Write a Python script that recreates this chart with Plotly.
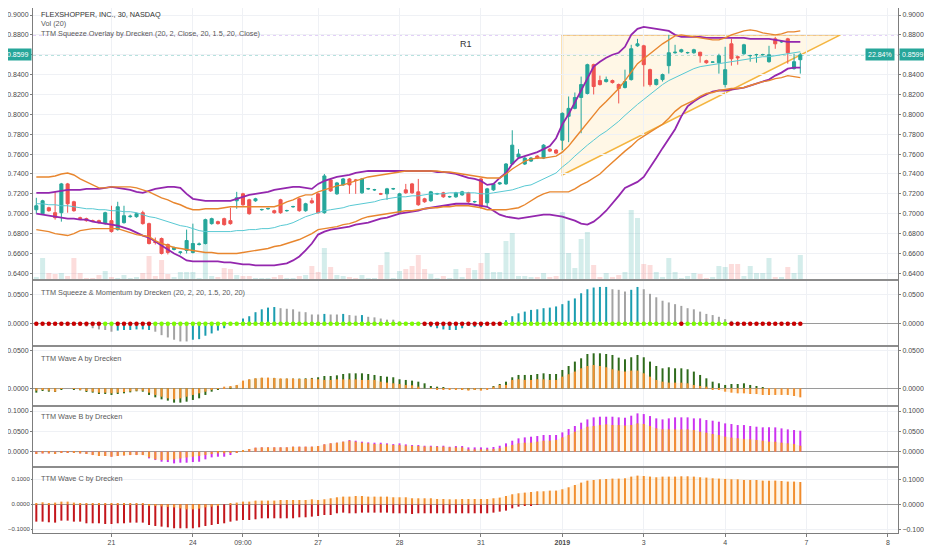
import plotly.graph_objects as go

# ---------------------------------------------------------------------------
# FLEXSHOPPER (FPAY) 30 min, 20 Dec 2018 - 4 Jan 2019, TTM indicators
# bars are numbered from the first visible 30 min candle
# ---------------------------------------------------------------------------
tick_bars = [12, 25, 33, 45, 58, 71, 84, 97, 110, 123, 136]
tick_text = ["21", "24", "09:00", "27", "28", "31", "<b>2019</b>", "3", "4", "7", "8"]

opens = [0.704, 0.700, 0.706, 0.701, 0.701, 0.730, 0.712, 0.696, 0.695, 0.693,
         0.693, 0.690, 0.693, 0.684, 0.691, 0.697, 0.697, 0.701, 0.690, 0.672,
         0.675, 0.669, 0.664, 0.661, 0.663, 0.661, 0.669, 0.670, 0.690, 0.692,
         0.695, 0.693, 0.713, 0.720, 0.714, 0.713, 0.704, 0.705, 0.703, 0.714,
         0.703, 0.707, 0.715, 0.703, 0.713, 0.720, 0.701, 0.734, 0.720, 0.729,
         0.735, 0.734, 0.721, 0.725, 0.724, 0.720, 0.720, 0.725, 0.701, 0.724,
         0.730, 0.722, 0.715, 0.713, 0.720, 0.721, 0.717, 0.717, 0.719, 0.721,
         0.712, 0.735, 0.711, 0.724, 0.730, 0.730, 0.750, 0.757, 0.750, 0.753,
         0.758, 0.756, 0.765, 0.764, 0.774, 0.798, 0.806, 0.817, 0.821, 0.850,
         0.834, 0.833, 0.834, 0.830, 0.827, 0.835, 0.869, 0.869, 0.845, 0.830,
         0.835, 0.849, 0.862, 0.863, 0.862, 0.862, 0.8625, 0.854, 0.8525, 0.852,
         0.830, 0.871, 0.858, 0.861, 0.859, 0.860, 0.860, 0.853, 0.876, 0.873,
         0.876, 0.846, 0.855]
highs = [0.716, 0.714, 0.707, 0.722, 0.731, 0.731, 0.713, 0.697, 0.696, 0.694,
         0.694, 0.702, 0.708, 0.712, 0.708, 0.699, 0.701, 0.703, 0.691, 0.676,
         0.676, 0.670, 0.667, 0.662, 0.684, 0.690, 0.671, 0.695, 0.696, 0.693,
         0.696, 0.706, 0.722, 0.721, 0.715, 0.716, 0.705, 0.706, 0.704, 0.715,
         0.704, 0.708, 0.716, 0.711, 0.716, 0.721, 0.740, 0.736, 0.732, 0.736,
         0.736, 0.735, 0.736, 0.726, 0.725, 0.721, 0.726, 0.726, 0.721, 0.730,
         0.731, 0.735, 0.716, 0.723, 0.721, 0.722, 0.718, 0.722, 0.723, 0.722,
         0.713, 0.736, 0.726, 0.731, 0.732, 0.751, 0.784, 0.765, 0.757, 0.757,
         0.759, 0.770, 0.766, 0.765, 0.802, 0.818, 0.822, 0.838, 0.851, 0.851,
         0.839, 0.838, 0.835, 0.831, 0.845, 0.870, 0.876, 0.870, 0.846, 0.836,
         0.841, 0.880, 0.870, 0.866, 0.863, 0.866, 0.863, 0.855, 0.853, 0.861,
         0.868, 0.876, 0.859, 0.871, 0.860, 0.861, 0.861, 0.869, 0.878, 0.874,
         0.877, 0.861, 0.862]
lows = [0.700, 0.699, 0.702, 0.694, 0.692, 0.701, 0.702, 0.694, 0.692, 0.692,
        0.690, 0.689, 0.681, 0.683, 0.690, 0.696, 0.696, 0.689, 0.669, 0.669,
        0.659, 0.659, 0.663, 0.659, 0.660, 0.660, 0.668, 0.669, 0.689, 0.689,
        0.688, 0.689, 0.705, 0.708, 0.699, 0.712, 0.703, 0.704, 0.700, 0.700,
        0.702, 0.706, 0.702, 0.702, 0.710, 0.700, 0.700, 0.722, 0.719, 0.728,
        0.720, 0.720, 0.720, 0.724, 0.723, 0.719, 0.714, 0.724, 0.700, 0.720,
        0.720, 0.708, 0.711, 0.712, 0.719, 0.716, 0.716, 0.716, 0.718, 0.711,
        0.711, 0.705, 0.707, 0.723, 0.729, 0.729, 0.749, 0.755, 0.749, 0.752,
        0.755, 0.755, 0.762, 0.760, 0.764, 0.772, 0.805, 0.781, 0.820, 0.820,
        0.829, 0.832, 0.831, 0.811, 0.826, 0.834, 0.868, 0.828, 0.828, 0.829,
        0.833, 0.841, 0.861, 0.862, 0.861, 0.861, 0.852, 0.851, 0.852, 0.841,
        0.827, 0.849, 0.850, 0.860, 0.853, 0.852, 0.859, 0.852, 0.866, 0.872,
        0.851, 0.845, 0.841]
closes = [0.708, 0.713, 0.703, 0.696, 0.730, 0.710, 0.703, 0.695, 0.693, 0.6925,
          0.691, 0.701, 0.682, 0.707, 0.698, 0.6975, 0.700, 0.690, 0.670, 0.671,
          0.660, 0.661, 0.666, 0.6615, 0.673, 0.670, 0.6695, 0.694, 0.695, 0.690,
          0.689, 0.690, 0.716, 0.709, 0.700, 0.715, 0.7042, 0.7052, 0.701, 0.701,
          0.7032, 0.7072, 0.703, 0.710, 0.711, 0.701, 0.738, 0.723, 0.731, 0.735,
          0.729, 0.7335, 0.735, 0.7252, 0.7242, 0.7198, 0.725, 0.7252, 0.720, 0.721,
          0.721, 0.709, 0.712, 0.722, 0.7202, 0.717, 0.7172, 0.721, 0.722, 0.712,
          0.7122, 0.707, 0.725, 0.730, 0.731, 0.750, 0.769, 0.760, 0.756, 0.756,
          0.756, 0.769, 0.763, 0.761, 0.801, 0.806, 0.817, 0.830, 0.850, 0.828,
          0.830, 0.835, 0.832, 0.826, 0.833, 0.866, 0.871, 0.850, 0.830, 0.835,
          0.840, 0.862, 0.8625, 0.865, 0.8622, 0.865, 0.859, 0.852, 0.8527, 0.859,
          0.845, 0.856, 0.857, 0.870, 0.8592, 0.8602, 0.8602, 0.860, 0.871, 0.8732,
          0.862, 0.853, 0.8599]
volume_k = [3, 22, 7, 6, 7, 4, 22, 7, 2, 2,
            5, 9, 3, 2, 5, 2, 3, 7, 24, 4,
            20, 6, 3, 8, 8, 8, 2, 37, 4, 3,
            12, 11, 5, 4, 4, 2, 2, 2, 3, 5,
            2, 2, 4, 5, 14, 8, 32, 13, 5, 4,
            3, 2, 5, 2, 2, 15, 28, 2, 9, 11,
            14, 25, 11, 6, 2, 4, 2, 11, 3, 12,
            10, 17, 27, 8, 8, 39, 47, 4, 4, 3,
            3, 7, 3, 4, 68, 27, 12, 41, 48, 15,
            3, 7, 3, 5, 8, 70, 62, 16, 15, 8,
            3, 22, 8, 2, 4, 7, 6, 2, 3, 14,
            13, 16, 16, 4, 14, 7, 7, 22, 3, 3,
            13, 7, 25]

# TTM squeeze overlay: Bollinger (purple), Keltner (orange), basis (teal)
bb_upper = [0.721, 0.721, 0.721, 0.722, 0.723, 0.724, 0.724, 0.724, 0.725, 0.725,
            0.725, 0.726, 0.727, 0.726, 0.725, 0.724, 0.722, 0.721, 0.723, 0.725,
            0.726, 0.727, 0.727, 0.726, 0.720, 0.715, 0.714, 0.713, 0.713, 0.713,
            0.713, 0.713, 0.715, 0.717, 0.719, 0.720, 0.721, 0.722, 0.724, 0.725,
            0.726, 0.727, 0.727, 0.726, 0.725, 0.730, 0.733, 0.735, 0.737, 0.738,
            0.739, 0.741, 0.742, 0.743, 0.743, 0.743, 0.743, 0.743, 0.743, 0.743,
            0.743, 0.743, 0.743, 0.743, 0.742, 0.742, 0.741, 0.740, 0.738, 0.736,
            0.735, 0.733, 0.729, 0.730, 0.736, 0.741, 0.750, 0.756, 0.758, 0.760,
            0.762, 0.765, 0.768, 0.776, 0.790, 0.800, 0.812, 0.824, 0.836, 0.848,
            0.853, 0.857, 0.860, 0.862, 0.868, 0.880, 0.886, 0.888, 0.887, 0.886,
            0.885, 0.884, 0.880, 0.878, 0.878, 0.878, 0.878, 0.877, 0.877, 0.877,
            0.877, 0.877, 0.877, 0.877, 0.876, 0.876, 0.876, 0.876, 0.875, 0.874,
            0.873, 0.873, 0.873]
bb_lower = [0.700, 0.699, 0.698, 0.697, 0.696, 0.695, 0.695, 0.694, 0.694, 0.692,
            0.691, 0.690, 0.689, 0.688, 0.686, 0.684, 0.681, 0.678, 0.676, 0.672,
            0.668, 0.664, 0.660, 0.657, 0.653, 0.652, 0.652, 0.652, 0.652, 0.652,
            0.651, 0.651, 0.650, 0.649, 0.649, 0.648, 0.648, 0.648, 0.648, 0.649,
            0.650, 0.653, 0.657, 0.663, 0.670, 0.679, 0.682, 0.684, 0.685, 0.686,
            0.687, 0.689, 0.690, 0.691, 0.693, 0.695, 0.696, 0.698, 0.700, 0.701,
            0.702, 0.703, 0.705, 0.706, 0.707, 0.708, 0.709, 0.710, 0.710, 0.710,
            0.709, 0.708, 0.707, 0.703, 0.699, 0.697, 0.696, 0.695, 0.696, 0.697,
            0.698, 0.699, 0.699, 0.698, 0.697, 0.695, 0.693, 0.690, 0.689, 0.692,
            0.697, 0.703, 0.710, 0.718, 0.726, 0.729, 0.732, 0.737, 0.746, 0.756,
            0.766, 0.776, 0.785, 0.798, 0.808, 0.813, 0.817, 0.820, 0.823, 0.824,
            0.824, 0.825, 0.826, 0.827, 0.829, 0.831, 0.833, 0.835, 0.839, 0.842,
            0.846, 0.847, 0.847]
kc_upper = [0.737, 0.737, 0.737, 0.738, 0.740, 0.741, 0.739, 0.735, 0.732, 0.729,
            0.726, 0.726, 0.727, 0.727, 0.727, 0.727, 0.726, 0.724, 0.722, 0.719,
            0.716, 0.714, 0.711, 0.709, 0.706, 0.704, 0.704, 0.705, 0.705, 0.705,
            0.706, 0.707, 0.707, 0.707, 0.707, 0.707, 0.707, 0.707, 0.707, 0.709,
            0.712, 0.714, 0.717, 0.719, 0.719, 0.722, 0.724, 0.726, 0.728, 0.729,
            0.731, 0.733, 0.735, 0.737, 0.738, 0.739, 0.740, 0.741, 0.742, 0.743,
            0.743, 0.743, 0.743, 0.743, 0.743, 0.742, 0.742, 0.741, 0.740, 0.739,
            0.738, 0.737, 0.736, 0.736, 0.736, 0.740, 0.745, 0.749, 0.753, 0.755,
            0.756, 0.756, 0.757, 0.758, 0.762, 0.768, 0.776, 0.784, 0.792, 0.800,
            0.807, 0.813, 0.819, 0.826, 0.834, 0.843, 0.851, 0.856, 0.861, 0.866,
            0.871, 0.875, 0.879, 0.880, 0.879, 0.878, 0.877, 0.876, 0.875, 0.875,
            0.877, 0.880, 0.882, 0.884, 0.885, 0.884, 0.882, 0.881, 0.880, 0.881,
            0.883, 0.883, 0.884]
kc_lower = [0.684, 0.683, 0.682, 0.680, 0.679, 0.678, 0.680, 0.683, 0.684, 0.685,
            0.685, 0.685, 0.685, 0.685, 0.683, 0.681, 0.679, 0.678, 0.677, 0.673,
            0.670, 0.668, 0.666, 0.665, 0.664, 0.663, 0.662, 0.661, 0.661, 0.660,
            0.660, 0.660, 0.660, 0.661, 0.662, 0.663, 0.664, 0.665, 0.667, 0.668,
            0.670, 0.672, 0.674, 0.677, 0.680, 0.684, 0.685, 0.686, 0.687, 0.689,
            0.690, 0.692, 0.695, 0.697, 0.698, 0.699, 0.700, 0.701, 0.702, 0.703,
            0.703, 0.704, 0.705, 0.706, 0.706, 0.707, 0.707, 0.708, 0.708, 0.708,
            0.707, 0.706, 0.704, 0.704, 0.704, 0.704, 0.705, 0.706, 0.709, 0.713,
            0.717, 0.720, 0.722, 0.722, 0.722, 0.722, 0.725, 0.729, 0.732, 0.736,
            0.740, 0.746, 0.752, 0.757, 0.763, 0.768, 0.774, 0.778, 0.782, 0.786,
            0.790, 0.796, 0.803, 0.808, 0.811, 0.814, 0.818, 0.821, 0.822, 0.824,
            0.825, 0.826, 0.826, 0.827, 0.829, 0.831, 0.833, 0.834, 0.836, 0.837,
            0.839, 0.838, 0.837]
basis = [0.710, 0.710, 0.709, 0.709, 0.708, 0.708, 0.707, 0.706, 0.705, 0.705,
         0.704, 0.704, 0.703, 0.703, 0.702, 0.702, 0.701, 0.699, 0.697, 0.696,
         0.694, 0.692, 0.690, 0.688, 0.687, 0.685, 0.683, 0.682, 0.682, 0.682,
         0.682, 0.682, 0.683, 0.683, 0.684, 0.684, 0.685, 0.685, 0.686, 0.688,
         0.689, 0.691, 0.694, 0.697, 0.699, 0.701, 0.703, 0.704, 0.705, 0.706,
         0.708, 0.709, 0.710, 0.711, 0.712, 0.714, 0.715, 0.716, 0.717, 0.717,
         0.718, 0.718, 0.719, 0.720, 0.720, 0.720, 0.721, 0.721, 0.721, 0.721,
         0.721, 0.720, 0.720, 0.721, 0.722, 0.723, 0.724, 0.726, 0.728, 0.729,
         0.732, 0.735, 0.738, 0.741, 0.747, 0.752, 0.758, 0.764, 0.769, 0.774,
         0.779, 0.783, 0.788, 0.793, 0.799, 0.805, 0.810, 0.815, 0.820, 0.825,
         0.830, 0.834, 0.837, 0.840, 0.843, 0.846, 0.848, 0.849, 0.850, 0.851,
         0.852, 0.853, 0.854, 0.855, 0.856, 0.857, 0.858, 0.858, 0.859, 0.860,
         0.861, 0.862, 0.863]

# TTM squeeze & momentum
momentum = [-0.001, -0.001, -0.001, -0.001, -0.002, -0.002, -0.002, -0.003, -0.005, -0.008,
            -0.010, -0.011, -0.014, -0.012, -0.011, -0.011, -0.010, -0.010, -0.011, -0.014,
            -0.020, -0.024, -0.028, -0.031, -0.031, -0.028, -0.027, -0.021, -0.017, -0.012,
            -0.008, -0.002, 0.001, 0.009, 0.013, 0.020, 0.025, 0.028, 0.029, 0.027,
            0.026, 0.025, 0.021, 0.020, 0.016, 0.016, 0.017, 0.016, 0.016, 0.017,
            0.015, 0.014, 0.015, 0.012, 0.011, 0.009, 0.007, 0.007, 0.004, 0.002,
            0.001, 0.000, -0.004, -0.006, -0.008, -0.010, -0.011, -0.011, -0.008, -0.004,
            -0.006, -0.006, -0.002, -0.001, 0.001, 0.006, 0.013, 0.018, 0.021, 0.024,
            0.025, 0.027, 0.028, 0.030, 0.034, 0.040, 0.044, 0.053, 0.060, 0.063,
            0.064, 0.064, 0.060, 0.059, 0.056, 0.059, 0.064, 0.060, 0.052, 0.046,
            0.040, 0.037, 0.034, 0.031, 0.027, 0.025, 0.021, 0.017, 0.015, 0.012,
            0.008, 0.005, 0.002, 0.001, 0.001, 0.000, 0.000, 0.000, 0.000, 0.000,
            0.000, 0.000, 0.000]
# (colour code, number of bars): t = strengthening, g = fading
momentum_runs = [("g", 13), ("t", 6), ("g", 6), ("t", 14), ("g", 7), ("t", 1), ("g", 2),
                 ("t", 1), ("g", 2), ("t", 1), ("g", 9), ("t", 30), ("g", 3), ("t", 2), ("g", 26)]
# r = squeeze on, l = squeeze off
squeeze_runs = [("r", 11), ("l", 2), ("r", 6), ("l", 43), ("r", 13), ("l", 28),
                ("r", 1), ("l", 7), ("r", 12)]

# TTM waves
wave_a_orange = [-0.0031, -0.0022, -0.0031, -0.0045, -0.0009, 0.0, -0.0009, -0.0022, -0.0036, -0.0045,
                 -0.0058, -0.0058, -0.0067, -0.0058, -0.0049, -0.0040, -0.0031, -0.0031, -0.0058, -0.0089,
                 -0.0112, -0.0134, -0.0148, -0.0134, -0.0112, -0.0089, -0.0067, -0.0045, -0.0022, -0.0009,
                 0.0022, 0.0031, 0.0045, 0.0103, 0.0121, 0.0134, 0.0143, 0.0143, 0.0139, 0.0134,
                 0.0130, 0.0130, 0.0125, 0.0125, 0.0130, 0.0121, 0.0112, 0.0112, 0.0121, 0.0121,
                 0.0121, 0.0121, 0.0112, 0.0112, 0.0112, 0.0089, 0.0076, 0.0067, 0.0058, 0.0045,
                 0.0040, 0.0022, 0.0000, -0.0009, -0.0013, -0.0013, -0.0013, -0.0022, -0.0022, -0.0031,
                 -0.0022, -0.0031, -0.0022, 0.0022, 0.0045, 0.0045, 0.0112, 0.0121, 0.0112, 0.0112,
                 0.0121, 0.0121, 0.0112, 0.0112, 0.0156, 0.0188, 0.0224, 0.0268, 0.0299, 0.0313,
                 0.0299, 0.0282, 0.0255, 0.0237, 0.0224, 0.0237, 0.0237, 0.0201, 0.0156, 0.0112,
                 0.0089, 0.0076, 0.0076, 0.0076, 0.0067, 0.0045, 0.0031, 0.0022, -0.0013, -0.0022,
                 -0.0045, -0.0058, -0.0067, -0.0067, -0.0076, -0.0076, -0.0089, -0.0089, -0.0089, -0.0089,
                 -0.0089, -0.0103, -0.0121]
wave_a_green = [-0.0058, -0.0036, -0.0045, -0.0049, -0.0013, 0.0, -0.0013, -0.0027, -0.0049, -0.0058,
                -0.0076, -0.0076, -0.0089, -0.0076, -0.0067, -0.0054, -0.0040, -0.0045, -0.0089, -0.0121,
                -0.0148, -0.0165, -0.0192, -0.0192, -0.0179, -0.0156, -0.0134, -0.0089, -0.0045, -0.0022,
                0.0000, 0.0022, 0.0040, 0.0098, 0.0116, 0.0130, 0.0139, 0.0139, 0.0139, 0.0125,
                0.0130, 0.0130, 0.0130, 0.0134, 0.0139, 0.0148, 0.0165, 0.0165, 0.0174, 0.0192,
                0.0201, 0.0201, 0.0201, 0.0192, 0.0179, 0.0165, 0.0156, 0.0148, 0.0121, 0.0112,
                0.0103, 0.0089, 0.0067, 0.0031, 0.0022, 0.0013, 0.0000, -0.0004, -0.0013, -0.0022,
                -0.0013, -0.0013, 0.0000, 0.0031, 0.0058, 0.0089, 0.0148, 0.0179, 0.0179, 0.0179,
                0.0192, 0.0201, 0.0192, 0.0192, 0.0246, 0.0299, 0.0358, 0.0402, 0.0460, 0.0469,
                0.0469, 0.0460, 0.0447, 0.0411, 0.0389, 0.0416, 0.0447, 0.0416, 0.0358, 0.0299,
                0.0268, 0.0282, 0.0268, 0.0268, 0.0255, 0.0224, 0.0179, 0.0134, 0.0089, 0.0067,
                0.0045, 0.0058, 0.0058, 0.0067, 0.0045, 0.0031, 0.0013, 0.0000, 0.0000, 0.0000,
                0.0000, 0.0000, 0.0000]
wave_b_orange = [-0.0057, -0.0041, -0.0041, -0.0057, -0.0025, -0.0016, -0.0025, -0.0041, -0.0057, -0.0082,
                 -0.0106, -0.0106, -0.0123, -0.0106, -0.0090, -0.0082, -0.0082, -0.0082, -0.0139, -0.0188,
                 -0.0205, -0.0205, -0.0188, -0.0164, -0.0139, -0.0123, -0.0106, -0.0082, -0.0057, -0.0041,
                 -0.0041, -0.0025, -0.0016, 0.0041, 0.0066, 0.0098, 0.0106, 0.0106, 0.0106, 0.0106,
                 0.0106, 0.0123, 0.0123, 0.0123, 0.0123, 0.0139, 0.0180, 0.0205, 0.0221, 0.0246,
                 0.0270, 0.0246, 0.0221, 0.0205, 0.0188, 0.0188, 0.0180, 0.0164, 0.0164, 0.0147,
                 0.0139, 0.0139, 0.0123, 0.0123, 0.0123, 0.0123, 0.0106, 0.0106, 0.0106, 0.0057,
                 0.0057, 0.0057, 0.0057, 0.0066, 0.0082, 0.0123, 0.0164, 0.0205, 0.0221, 0.0221,
                 0.0246, 0.0270, 0.0270, 0.0287, 0.0352, 0.0410, 0.0491, 0.0549, 0.0614, 0.0631,
                 0.0655, 0.0672, 0.0655, 0.0655, 0.0639, 0.0655, 0.0696, 0.0680, 0.0631, 0.0573,
                 0.0549, 0.0549, 0.0549, 0.0549, 0.0549, 0.0532, 0.0491, 0.0467, 0.0434, 0.0410,
                 0.0369, 0.0344, 0.0328, 0.0311, 0.0303, 0.0287, 0.0270, 0.0246, 0.0246, 0.0221,
                 0.0205, 0.0188, 0.0147]
wave_b_magenta = [-0.0057, -0.0041, -0.0041, -0.0057, -0.0025, -0.0016, -0.0025, -0.0041, -0.0057, -0.0082,
                  -0.0106, -0.0106, -0.0123, -0.0106, -0.0090, -0.0082, -0.0082, -0.0082, -0.0164, -0.0205,
                  -0.0246, -0.0254, -0.0287, -0.0270, -0.0270, -0.0254, -0.0246, -0.0188, -0.0139, -0.0123,
                  -0.0123, -0.0082, -0.0016, 0.0041, 0.0066, 0.0098, 0.0106, 0.0106, 0.0106, 0.0106,
                  0.0106, 0.0123, 0.0123, 0.0123, 0.0123, 0.0139, 0.0180, 0.0205, 0.0221, 0.0246,
                  0.0287, 0.0270, 0.0246, 0.0229, 0.0221, 0.0221, 0.0205, 0.0188, 0.0205, 0.0180,
                  0.0164, 0.0164, 0.0147, 0.0147, 0.0139, 0.0147, 0.0123, 0.0139, 0.0139, 0.0106,
                  0.0106, 0.0106, 0.0098, 0.0115, 0.0147, 0.0205, 0.0270, 0.0328, 0.0352, 0.0369,
                  0.0385, 0.0410, 0.0410, 0.0410, 0.0475, 0.0557, 0.0631, 0.0713, 0.0794, 0.0844,
                  0.0860, 0.0860, 0.0860, 0.0844, 0.0835, 0.0885, 0.0942, 0.0925, 0.0876, 0.0819,
                  0.0794, 0.0819, 0.0844, 0.0844, 0.0844, 0.0819, 0.0819, 0.0778, 0.0762, 0.0737,
                  0.0696, 0.0680, 0.0655, 0.0655, 0.0631, 0.0614, 0.0598, 0.0598, 0.0598, 0.0573,
                  0.0549, 0.0532, 0.0516]
wave_c_red = [-0.0693, -0.0693, -0.0720, -0.0733, -0.0653, -0.0653, -0.0693, -0.0693, -0.0760, -0.0760,
              -0.0760, -0.0787, -0.0787, -0.0760, -0.0760, -0.0733, -0.0733, -0.0733, -0.0827, -0.0867,
              -0.0893, -0.0920, -0.0960, -0.0960, -0.0960, -0.0960, -0.0920, -0.0867, -0.0827, -0.0787,
              -0.0760, -0.0693, -0.0653, -0.0627, -0.0627, -0.0600, -0.0560, -0.0560, -0.0560, -0.0560,
              -0.0560, -0.0560, -0.0520, -0.0520, -0.0493, -0.0467, -0.0427, -0.0427, -0.0360, -0.0333,
              -0.0360, -0.0360, -0.0333, -0.0333, -0.0333, -0.0333, -0.0333, -0.0360, -0.0360, -0.0360,
              -0.0387, -0.0360, -0.0360, -0.0360, -0.0360, -0.0360, -0.0360, -0.0360, -0.0360, -0.0360,
              -0.0360, -0.0360, -0.0360, -0.0333, -0.0293, -0.0253, -0.0160, -0.0093, -0.0067, -0.0040,
              -0.0027, 0.0, 0.0, 0.0, 0.0, 0.0, 0.0, 0.0, 0.0, 0.0,
              0.0, 0.0, 0.0, 0.0, 0.0, 0.0, 0.0, 0.0, 0.0, 0.0,
              0.0, 0.0, 0.0, 0.0, 0.0, 0.0, 0.0, 0.0, 0.0, 0.0,
              0.0, 0.0, 0.0, 0.0, 0.0, 0.0, 0.0, 0.0, 0.0, 0.0,
              0.0, 0.0, 0.0]
wave_c_orange = [0.0040, 0.0080, 0.0040, 0.0067, 0.0107, 0.0107, 0.0067, 0.0040, 0.0013, 0.0013,
                 0.0013, 0.0013, 0.0013, 0.0013, 0.0013, 0.0013, 0.0013, 0.0013, -0.0040, -0.0060,
                 -0.0080, -0.0100, -0.0120, -0.0160, -0.0200, -0.0200, -0.0173, -0.0120, -0.0093, -0.0040,
                 0.0000, 0.0040, 0.0067, 0.0107, 0.0107, 0.0147, 0.0147, 0.0147, 0.0147, 0.0173,
                 0.0173, 0.0173, 0.0173, 0.0173, 0.0200, 0.0173, 0.0200, 0.0240, 0.0280, 0.0307,
                 0.0307, 0.0333, 0.0333, 0.0307, 0.0307, 0.0307, 0.0307, 0.0280, 0.0280, 0.0280,
                 0.0240, 0.0240, 0.0240, 0.0240, 0.0213, 0.0213, 0.0200, 0.0200, 0.0213, 0.0213,
                 0.0213, 0.0213, 0.0213, 0.0240, 0.0267, 0.0333, 0.0400, 0.0440, 0.0467, 0.0493,
                 0.0520, 0.0520, 0.0547, 0.0547, 0.0600, 0.0680, 0.0773, 0.0867, 0.0947, 0.0973,
                 0.1000, 0.1013, 0.1027, 0.1027, 0.1040, 0.1107, 0.1147, 0.1133, 0.1107, 0.1080,
                 0.1107, 0.1107, 0.1107, 0.1120, 0.1120, 0.1107, 0.1080, 0.1067, 0.1040, 0.1027,
                 0.1013, 0.1000, 0.1000, 0.0973, 0.0973, 0.0973, 0.0947, 0.0947, 0.0947, 0.0933,
                 0.0907, 0.0907, 0.0893]

# drawings on the price pane
triangle = [(84, 0.880), (128.4, 0.880), (84, 0.739)]
resistance = 0.880
last_price = 0.8599

# ---------------------------------------------------------------------------
# the page body adds an 8px margin, so the figure is 8px smaller each way
UP, DOWN = "#26a69a", "#ef5350"
PURPLE, ORANGE, TEAL = "#9427ae", "#e8862e", "#58c9d3"
WAVE_ORANGE = "#f0892a"
AXIS, GRID = "#7d7d7d", "#eff1f5"
FONT = "Liberation Sans"
TICK_FONT = dict(family=FONT, size=7, color="#4a4a4a")


def expand(runs):
    out = []
    for code, count in runs:
        out += [code] * count
    return out


bars = list(range(len(closes)))
mom_colours = ["#1b9db0" if c == "t" else "#a3a3a3" for c in expand(momentum_runs)]
dot_colours = ["#c80000" if c == "r" else "#7cfc00" for c in expand(squeeze_runs)]
vol_colours = ["rgba(38,166,154,0.2)" if c >= o else "rgba(239,83,80,0.2)"
               for o, c in zip(opens, closes)]

fig = go.Figure()

# volume (bottom layer of the price pane)
fig.add_trace(go.Bar(x=bars, y=volume_k, yaxis="y", marker=dict(color=vol_colours, line_width=0),
                     width=0.8, hoverinfo="skip"))

fig.add_trace(go.Candlestick(
    x=bars, open=opens, high=highs, low=lows, close=closes, yaxis="y2",
    increasing=dict(line=dict(color=UP, width=1), fillcolor=UP),
    decreasing=dict(line=dict(color=DOWN, width=1), fillcolor=DOWN),
    whiskerwidth=0, hoverinfo="skip"))

for vals, col, w in [(bb_upper, PURPLE, 1.8), (bb_lower, PURPLE, 1.8),
                     (kc_upper, ORANGE, 1.4), (kc_lower, ORANGE, 1.4), (basis, TEAL, 1.0)]:
    fig.add_trace(go.Scatter(x=bars, y=vals, yaxis="y2", mode="lines",
                             line=dict(color=col, width=w), hoverinfo="skip"))

# squeeze & momentum
fig.add_trace(go.Bar(x=bars, y=momentum, yaxis="y4", width=0.32,
                     marker=dict(color=mom_colours, line_width=0), hoverinfo="skip"))
fig.add_trace(go.Scatter(x=bars, y=[0.0] * len(bars), yaxis="y4", mode="markers",
                         marker=dict(color=dot_colours, size=4.5), hoverinfo="skip"))


def wave(axis, back, back_col, front):
    fig.add_trace(go.Scatter(x=bars, y=front, yaxis=axis, mode="lines", line=dict(width=0),
                             fill="tozeroy", fillcolor="rgba(255,190,90,0.14)", hoverinfo="skip"))
    fig.add_trace(go.Bar(x=bars, y=back, yaxis=axis, width=0.32,
                         marker=dict(color=back_col, line_width=0), hoverinfo="skip"))
    fig.add_trace(go.Bar(x=bars, y=front, yaxis=axis, width=0.32,
                         marker=dict(color=WAVE_ORANGE, line_width=0), hoverinfo="skip"))


wave("y6", wave_a_green, "#2f6b1c", wave_a_orange)
wave("y8", wave_b_magenta, "#cc33f0", wave_b_orange)
wave("y10", wave_c_red, "#c4161c", wave_c_orange)

SEPS = [0.4819, 0.3562, 0.2419, 0.1257]
# panes: (left axis, right axis, axis the right one overlays, domain, range, ticks)
panes = [
    ("y2", "y3", "y", [SEPS[0], 1.0], [0.63327, 0.90705],
     [0.64, 0.66, 0.68, 0.70, 0.72, 0.74, 0.76, 0.78, 0.80, 0.82, 0.84, 0.86, 0.88, 0.90]),
    ("y4", "y5", "y4", [SEPS[1], SEPS[0]], [-0.0389, 0.0761], [0.0, 0.05]),
    ("y6", "y7", "y6", [SEPS[2], SEPS[1]], [-0.0237, 0.0567], [0.0, 0.05]),
    ("y8", "y9", "y8", [SEPS[3], SEPS[2]], [-0.0376, 0.1123], [0.0, 0.05, 0.1]),
    ("y10", "y11", "y10", [0.0, SEPS[3]], [-0.1148, 0.1492], [-0.1, 0.0, 0.1]),
]

layout_axes = {
    "yaxis": dict(domain=[SEPS[0], 1.0], range=[0, 272], visible=False, showgrid=False,
                  fixedrange=True, automargin=False),
}
for left, right, base, dom, rng, ticks in panes:
    lname = "yaxis" + left[1:]
    rname = "yaxis" + right[1:]
    common = dict(range=rng, tickvals=ticks, tickformat=".4f", anchor="x",
                  showline=True, linecolor=AXIS, linewidth=1, ticks="outside", ticklen=2,
                  tickcolor=AXIS, tickfont=TICK_FONT, fixedrange=True, automargin=False)
    if left == "y2":
        layout_axes[lname] = dict(common, overlaying="y", side="left", showgrid=True,
                                  gridcolor=GRID, zeroline=False)
    else:
        layout_axes[lname] = dict(common, domain=dom, side="left", showgrid=True, gridcolor=GRID,
                                  zeroline=True, zerolinecolor="#9a9a9a", zerolinewidth=1)
    layout_axes[rname] = dict(common, overlaying=base, side="right", showgrid=False,
                              zeroline=False)
    # placeholder so the mirrored right axis gets drawn
    fig.add_trace(go.Scatter(x=[bars[0]], y=[rng[0] - 1], yaxis=right, mode="markers",
                             marker=dict(opacity=0), hoverinfo="skip"))

# "-0.1000" is the widest left label, squeeze it into the narrow margin
layout_axes["yaxis10"]["tickfont"] = dict(TICK_FONT, size=6)
layout_axes["yaxis10"]["ticklen"] = 1

tri_path = "M " + " L ".join(f"{x},{y}" for x, y in triangle) + " Z"
shapes = [
    dict(type="path", path=tri_path, xref="x", yref="y2", layer="below",
         fillcolor="rgba(255,196,80,0.14)", line=dict(color="#f4b540", width=1.5)),
    dict(type="line", xref="paper", x0=0, x1=1, yref="y2", y0=resistance, y1=resistance,
         layer="below", line=dict(color="#b27ce8", width=1, dash="dot")),
    dict(type="line", xref="paper", x0=0, x1=1, yref="y2", y0=last_price, y1=last_price,
         layer="below", line=dict(color=UP, width=1, dash="dot")),
]
for sep in SEPS:
    shapes.append(dict(type="line", xref="paper", x0=0, x1=1, yref="paper", y0=sep, y1=sep,
                       line=dict(color="#8c8c8c", width=2)))

legend = [
    ("FLEXSHOPPER, INC., 30, NASDAQ", 1.0, "top", "#333333"),
    ("Vol (20)", 0.9714, "middle", "#5a5a5a"),
    ("TTM Squeeze Overlay by Drecken (20, 2, Close, 20, 1.5, 20, Close)", 0.9505, "middle", "#5a5a5a"),
    ("TTM Squeeze &amp; Momentum by Drecken (20, 2, 20, 1.5, 20, 20)", 0.4590, "middle", "#5a5a5a"),
    ("TTM Wave A by Drecken", 0.3333, "middle", "#5a5a5a"),
    ("TTM Wave B by Drecken", 0.2210, "middle", "#5a5a5a"),
    ("TTM Wave C by Drecken", 0.1029, "middle", "#5a5a5a"),
]
annotations = [dict(text=t, xref="paper", yref="paper", x=0.007, y=y, xanchor="left",
                    yanchor=anchor, showarrow=False, font=dict(family=FONT, size=7.3, color=c))
               for t, y, anchor, c in legend]
box_font = dict(family=FONT, size=7, color="white")
annotations += [
    dict(text="R1", xref="x", yref="y2", x=68.6, y=resistance - 0.009, showarrow=False,
         font=dict(family=FONT, size=9, color="#333333")),
    dict(text=f"{last_price:.4f}", xref="paper", yref="y2", x=0, y=last_price, xanchor="right",
         xshift=-1, showarrow=False, bgcolor=UP, borderpad=2, font=box_font),
    dict(text=f"{last_price:.4f}", xref="paper", yref="y2", x=1, y=last_price, xanchor="left",
         xshift=1, showarrow=False, bgcolor=UP, borderpad=2, font=box_font),
    dict(text="22.84%", xref="paper", yref="y2", x=1, y=last_price, xanchor="right",
         xshift=-3, showarrow=False, bgcolor=UP, borderpad=2, font=box_font),
]

fig.update_layout(
    width=924, height=542,
    margin=dict(l=25, r=34, t=0, b=17, autoexpand=False),
    paper_bgcolor="white", plot_bgcolor="white",
    showlegend=False, hovermode=False, barmode="overlay",
    xaxis=dict(domain=[0, 1], range=[-0.53, 137.6], anchor="y10",
               tickvals=tick_bars, ticktext=tick_text, showgrid=True, gridcolor=GRID,
               showline=True, linecolor=AXIS, linewidth=1, ticks="outside", ticklen=3,
               tickcolor=AXIS, tickfont=TICK_FONT, zeroline=False, fixedrange=True,
               automargin=False, rangeslider=dict(visible=False)),
    shapes=shapes, annotations=annotations,
    **layout_axes,
)

fig.write_html("out.html")
